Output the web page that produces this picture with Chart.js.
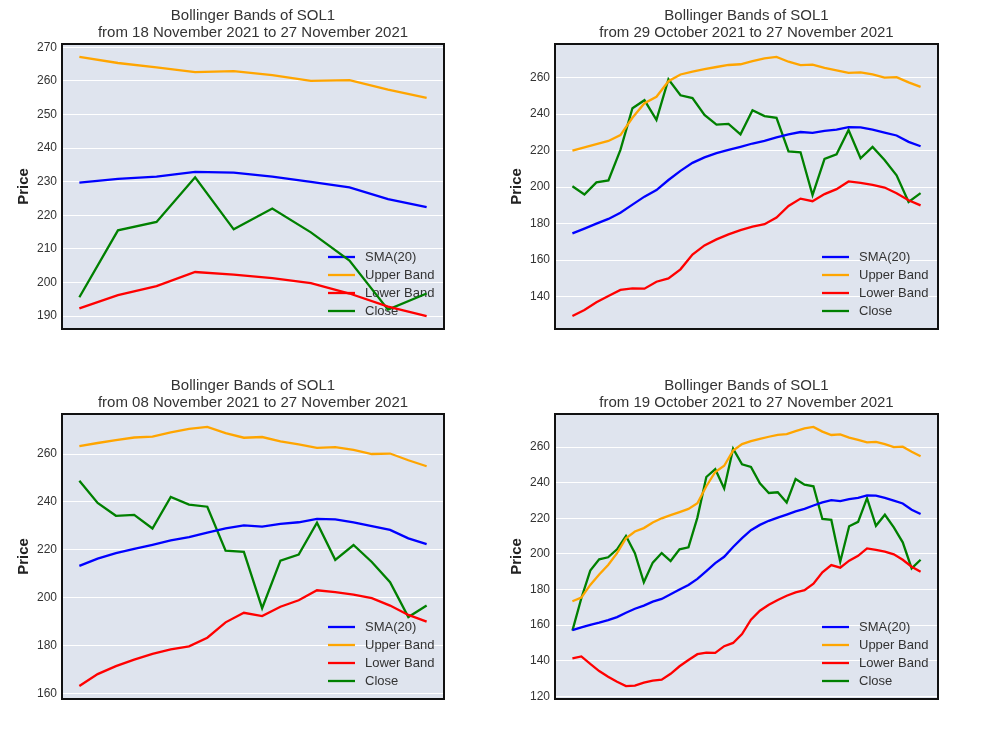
<!DOCTYPE html>
<html>
<head>
<meta charset="utf-8">
<script src="https://cdn.jsdelivr.net/npm/chart.js@4.4.1/dist/chart.umd.min.js"></script>
<style>
html,body{margin:0;padding:0;background:#ffffff;}
#wrap{position:relative;width:987px;height:740px;overflow:hidden;}
.p{position:absolute;}
</style>
</head>
<body>
<div id="wrap">
  <div class="p" style="left:0px;top:0px;"><canvas id="c0" width="493" height="370"></canvas></div>
  <div class="p" style="left:493px;top:0px;"><canvas id="c1" width="494" height="370"></canvas></div>
  <div class="p" style="left:0px;top:370px;"><canvas id="c2" width="493" height="370"></canvas></div>
  <div class="p" style="left:493px;top:370px;"><canvas id="c3" width="494" height="370"></canvas></div>
</div>
<script>
// ---- Data (daily, 19 Oct 2021 .. 27 Nov 2021) ----
const dates = [
  "2021-10-19","2021-10-20","2021-10-21","2021-10-22","2021-10-23","2021-10-24","2021-10-25","2021-10-26","2021-10-27","2021-10-28",
  "2021-10-29","2021-10-30","2021-10-31","2021-11-01","2021-11-02","2021-11-03","2021-11-04","2021-11-05","2021-11-06","2021-11-07",
  "2021-11-08","2021-11-09","2021-11-10","2021-11-11","2021-11-12","2021-11-13","2021-11-14","2021-11-15","2021-11-16","2021-11-17",
  "2021-11-18","2021-11-19","2021-11-20","2021-11-21","2021-11-22","2021-11-23","2021-11-24","2021-11-25","2021-11-26","2021-11-27"
];
const closePrice = [
  156.9, 175.1, 190.6, 197.0, 198.1, 202.6, 210.1, 200.4, 184.1, 195.1,
  200.5, 196.0, 202.6, 203.7, 220.4, 243.2, 247.6, 236.8, 259.1, 250.3,
  248.8, 239.6, 234.2, 234.6, 228.9, 242.1, 238.9, 238.0, 219.6, 219.1,
  195.6, 215.5, 218.0, 231.3, 215.8, 222.0, 214.9, 206.5, 191.9, 196.7
];
const sma20 = [
  157.2, 158.8, 160.2, 161.4, 162.8, 164.5, 167.0, 169.2, 171.0, 173.2,
  174.7, 177.3, 180.0, 182.6, 186.0, 190.4, 194.8, 198.4, 203.9, 208.9,
  213.3, 216.3, 218.6, 220.4, 222.1, 223.9, 225.3, 227.2, 228.9, 230.2,
  229.7, 230.8, 231.5, 232.9, 232.7, 231.5, 229.9, 228.3, 224.8, 222.4
];
const upperBand = [
  173.4, 175.5, 182.6, 188.4, 193.8, 200.4, 208.8, 212.6, 214.5, 217.6,
  220.0, 221.8, 223.5, 225.3, 228.5, 238.0, 246.0, 249.5, 258.0, 261.7,
  263.3, 264.6, 265.8, 266.9, 267.3, 269.0, 270.5, 271.3, 268.7, 266.8,
  267.1, 265.3, 264.0, 262.6, 262.9, 261.7, 260.0, 260.2, 257.4, 254.9
];
const lowerBand = [
  141.3, 142.4, 138.2, 134.2, 131.0, 128.2, 125.8, 126.0, 127.7, 128.8,
  129.4, 132.7, 136.9, 140.4, 143.7, 144.6, 144.4, 148.2, 150.0, 155.0,
  163.1, 168.1, 171.4, 174.1, 176.5, 178.4, 179.7, 183.3, 189.7, 193.7,
  192.3, 196.2, 198.9, 203.1, 202.3, 201.3, 199.8, 196.7, 192.8, 190.0
];
// panel windows (number of last days) and titles
const panelDays = [10, 30, 20, 40];
const panelTitles = [
  ["Bollinger Bands of SOL1", "from 18 November 2021 to 27 November 2021"],
  ["Bollinger Bands of SOL1", "from 29 October 2021 to 27 November 2021"],
  ["Bollinger Bands of SOL1", "from 08 November 2021 to 27 November 2021"],
  ["Bollinger Bands of SOL1", "from 19 October 2021 to 27 November 2021"]
];
const panelTicks = [
  [190, 200, 210, 220, 230, 240, 250, 260, 270],
  [140, 160, 180, 200, 220, 240, 260],
  [160, 180, 200, 220, 240, 260],
  [120, 140, 160, 180, 200, 220, 240, 260]
];
const seriesLabels = ["SMA(20)", "Upper Band", "Lower Band", "Close"];
const seriesColors = ["#0000ff", "#ffa500", "#ff0000", "#008000"];
const seriesData = [sma20, upperBand, lowerBand, closePrice];

const FONT = "'Liberation Sans', Arial, Helvetica, sans-serif";
const TEXT = "#333333";
const PLOT_BG = "#dfe4ee";

const bgPlugin = {
  id: 'bgFrame',
  beforeDraw(chart) {
    const {ctx, chartArea: a} = chart;
    ctx.save();
    ctx.fillStyle = PLOT_BG;
    ctx.fillRect(a.left, a.top, a.right - a.left, a.bottom - a.top);
    ctx.restore();
  },
  afterDraw(chart) {
    const {ctx, chartArea: a} = chart;
    ctx.save();
    ctx.strokeStyle = "#111111";
    ctx.lineWidth = 2;
    ctx.strokeRect(a.left, a.top, a.right - a.left, a.bottom - a.top);
    ctx.restore();
  }
};

const titlePlugin = {
  id: 'twoLineTitle',
  afterDraw(chart) {
    const lines = chart.options.plugins.twoLineTitle.lines;
    const {ctx, chartArea: a} = chart;
    const cx = (a.left + a.right) / 2;
    ctx.save();
    ctx.fillStyle = TEXT;
    ctx.font = "15px " + FONT;
    ctx.textAlign = "center";
    ctx.textBaseline = "middle";
    ctx.fillText(lines[0], cx, 16);
    ctx.fillText(lines[1], cx, 33);
    ctx.restore();
  }
};

const legendPlugin = {
  id: 'innerLegend',
  beforeDatasetsDraw(chart) {
    const {ctx, chartArea: a} = chart;
    const ds = chart.data.datasets;
    ctx.save();
    ctx.font = "13px " + FONT;
    ctx.textAlign = "left";
    ctx.textBaseline = "middle";
    ds.forEach((d, i) => {
      const y = a.bottom - 18 - (ds.length - 1 - i) * 18;
      ctx.strokeStyle = d.borderColor;
      ctx.lineWidth = 2.3;
      ctx.beginPath();
      ctx.moveTo(a.right - 116, y);
      ctx.lineTo(a.right - 89, y);
      ctx.stroke();
      ctx.fillStyle = TEXT;
      ctx.fillText(d.label, a.right - 79, y + 0.5);
    });
    ctx.restore();
  }
};

function makePanel(idx) {
  const n = panelDays[idx];
  const start = dates.length - n;
  const labels = dates.slice(start);
  const datasets = seriesData.map((arr, k) => ({
    label: seriesLabels[k],
    data: arr.slice(start).map((v, i) => ({x: i, y: v})),
    borderColor: seriesColors[k],
    backgroundColor: seriesColors[k],
    borderWidth: 2.3,
    pointRadius: 0,
    tension: 0,
    fill: false
  }));
  let lo = Infinity, hi = -Infinity;
  seriesData.forEach(arr => arr.slice(start).forEach(v => { lo = Math.min(lo, v); hi = Math.max(hi, v); }));
  const pad = (hi - lo) * 0.05;
  const ticks = panelTicks[idx];
  return new Chart(document.getElementById('c' + idx), {
    type: 'line',
    data: {labels, datasets},
    options: {
      responsive: false,
      animation: false,
      devicePixelRatio: 1,
      layout: {padding: {left: 0, right: 49, top: 44, bottom: 41}},
      plugins: {
        legend: {display: false},
        title: {display: false},
        tooltip: {enabled: false},
        twoLineTitle: {lines: panelTitles[idx]}
      },
      scales: {
        x: {type: 'linear', display: false, min: -0.05 * (n - 1), max: 1.05 * (n - 1)},
        y: {
          min: lo - pad,
          max: hi + pad,
          afterFit(s) { s.width = 62; },
          afterBuildTicks(s) { s.ticks = ticks.map(v => ({value: v})); },
          grid: {color: '#ffffff', lineWidth: 1, drawTicks: false},
          border: {display: false},
          ticks: {font: {size: 12, family: FONT}, color: TEXT, padding: 5},
          title: {display: true, text: 'Price', color: '#222222', font: {size: 15, weight: 'bold', family: FONT}, padding: {top: 15, bottom: 0}}
        }
      }
    },
    plugins: [bgPlugin, legendPlugin, titlePlugin]
  });
}
[0, 1, 2, 3].forEach(makePanel);
</script>
</body>
</html>
